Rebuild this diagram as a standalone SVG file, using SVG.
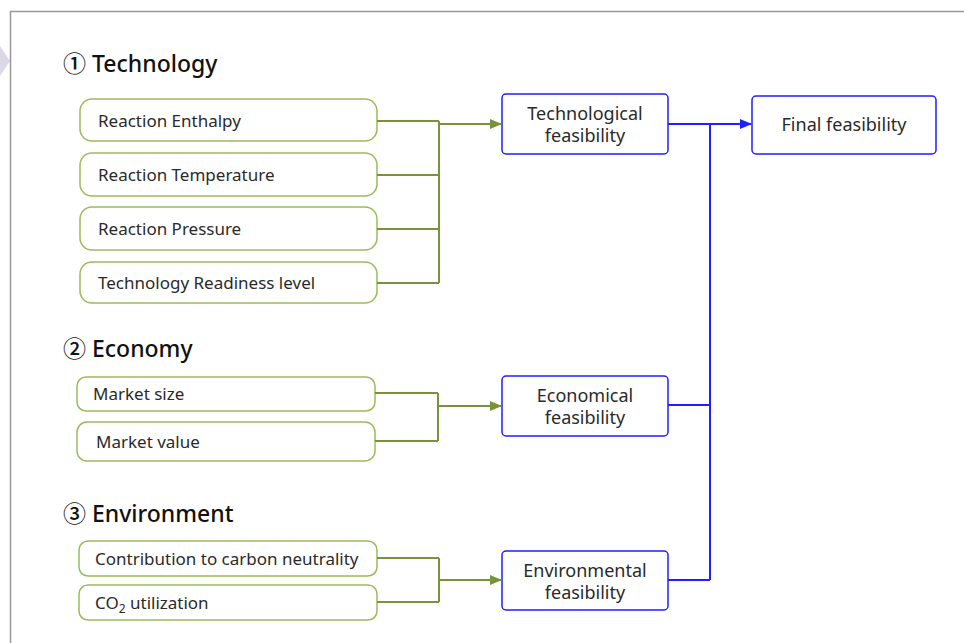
<svg xmlns="http://www.w3.org/2000/svg" width="964" height="643" viewBox="0 0 964 643">
<defs>
<style>
.frame{fill:none;stroke:#999;stroke-width:1.5}
.hdr{font-family:"Noto Sans","Noto Sans CJK KR",sans-serif;font-size:23px;font-weight:500;fill:#111}
.inp{fill:#fff;stroke:#9bbb59;stroke-width:1.5}
.out{fill:#fff;stroke:#1f1fff;stroke-width:1.5}
.t{font-family:"Noto Sans","Noto Sans CJK KR",sans-serif;font-size:17px;fill:#2a2a2a}
.tc{font-family:"Noto Sans","Noto Sans CJK KR",sans-serif;font-size:18px;fill:#2a2a2a;text-anchor:middle}
.g{fill:none;stroke:#77933c;stroke-width:2}
.b{fill:none;stroke:#1f1fff;stroke-width:2}
</style>
<marker id="ag" markerWidth="12" markerHeight="12" refX="11" refY="6" orient="auto" markerUnits="userSpaceOnUse">
<path d="M0,1 L12,6 L0,11 z" fill="#77933c"/>
</marker>
<marker id="ab" markerWidth="12" markerHeight="12" refX="11" refY="6" orient="auto" markerUnits="userSpaceOnUse">
<path d="M0,1 L12,6 L0,11 z" fill="#1f1fff"/>
</marker>
</defs>
<rect width="964" height="643" fill="#fff"/>
<path d="M0,46 L10,61 L0,76 z" fill="#ddd8e8"/>
<path class="frame" d="M10.5,643 L10.5,11.5 L964,11.5"/>

<g id="headers">
<text class="hdr" x="63" y="72">① Technology</text>
<text class="hdr" x="63" y="357">② Economy</text>
<text class="hdr" x="63" y="522">③ Environment</text>
</g>

<g id="n-enthalpy"><rect class="inp" x="80" y="99" width="297" height="42" rx="12"/><text class="t" x="98" y="127">Reaction Enthalpy</text></g>
<g id="n-temperature"><rect class="inp" x="80" y="153" width="297" height="43" rx="12"/><text class="t" x="98" y="181">Reaction Temperature</text></g>
<g id="n-pressure"><rect class="inp" x="80" y="207" width="297" height="43" rx="12"/><text class="t" x="98" y="235">Reaction Pressure</text></g>
<g id="n-trl"><rect class="inp" x="80" y="262" width="297" height="41" rx="12"/><text class="t" x="98" y="289">Technology Readiness level</text></g>

<g id="n-market-size"><rect class="inp" x="77" y="377" width="298" height="34" rx="9"/><text class="t" x="93" y="400">Market size</text></g>
<g id="n-market-value"><rect class="inp" x="77" y="422" width="298" height="39" rx="10"/><text class="t" x="96" y="448">Market value</text></g>

<g id="n-carbon"><rect class="inp" x="79" y="541" width="298" height="35" rx="9"/><text class="t" x="95" y="565">Contribution to carbon neutrality</text></g>
<g id="n-co2"><rect class="inp" x="79" y="585" width="298" height="35" rx="9"/><text class="t" x="95" y="609">CO<tspan font-size="12" dy="4">2</tspan><tspan dy="-4"> utilization</tspan></text></g>

<g id="n-tech-feas"><rect class="out" x="502" y="94" width="166" height="60" rx="4"/><text class="tc" x="585" y="120">Technological</text><text class="tc" x="585" y="142">feasibility</text></g>
<g id="n-econ-feas"><rect class="out" x="502" y="376" width="166" height="60" rx="4"/><text class="tc" x="585" y="402">Economical</text><text class="tc" x="585" y="424">feasibility</text></g>
<g id="n-env-feas"><rect class="out" x="502" y="551" width="166" height="59" rx="4"/><text class="tc" x="585" y="577">Environmental</text><text class="tc" x="585" y="599">feasibility</text></g>
<g id="n-final"><rect class="out" x="752" y="96" width="184" height="58" rx="4"/><text class="tc" x="844" y="131">Final feasibility</text></g>

<g id="connectors">
<path class="g" d="M377,121 H439 M377,175 H439 M377,229 H439 M377,283 H439 M439,121 V283"/>
<path class="g" d="M439,124 H501" marker-end="url(#ag)"/>
<path class="g" d="M375,393 H438 M375,441 H438 M438,393 V441"/>
<path class="g" d="M438,406 H501" marker-end="url(#ag)"/>
<path class="g" d="M377,558 H439 M377,602 H439 M439,558 V602"/>
<path class="g" d="M439,580 H501" marker-end="url(#ag)"/>
<path class="b" d="M668,405 H710 M668,580 H710 M710,124 V580"/>
<path class="b" d="M668,124 H751" marker-end="url(#ab)"/>
</g>
</svg>
